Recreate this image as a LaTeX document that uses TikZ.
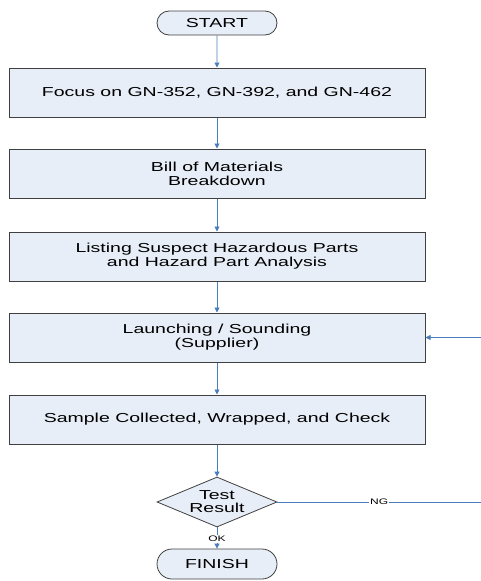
\documentclass[tikz,border=0pt]{standalone}
\usepackage{fontspec}
\newfontfamily\wfont[FakeStretch=1.5]{Liberation Sans}
\usetikzlibrary{shapes.misc,shapes.geometric,arrows.meta}
\definecolor{boxfill}{RGB}{232,238,247}
\definecolor{boxline}{RGB}{64,64,64}
\definecolor{conn}{RGB}{74,126,187}
\tikzset{
  procbox/.style={draw=boxline, line width=1pt, fill=boxfill, rectangle,
    minimum width=416pt, minimum height=49pt, inner sep=0pt, align=center,
    font=\wfont\fontsize{13}{14}\selectfont},
  termbox/.style={draw=boxline, line width=0.8pt, fill=boxfill, rounded rectangle,
    minimum width=120pt, minimum height=24pt, inner sep=0pt,
    font=\wfont\fontsize{13}{14}\selectfont},
  decbox/.style={draw=boxline, line width=0.8pt, fill=boxfill, diamond, aspect=2.4,
    minimum width=120pt, minimum height=50pt, inner sep=0pt, align=center,
    font=\wfont\fontsize{13}{13}\selectfont},
  flow/.style={draw=conn, line width=0.9pt, -{Triangle[length=5pt,width=5pt]}},
  plain/.style={draw=conn, line width=0.9pt},
  lbl/.style={fill=white, inner sep=1pt, font=\wfont\fontsize{8}{9}\selectfont}
}
\begin{document}
\begin{tikzpicture}[x=1pt,y=-1pt]
\useasboundingbox (0,0) rectangle (481,581);
\node[termbox] (start) at (217,23) {START};
\node[procbox] (b1) at (217,92.5) {Focus on GN-352, GN-392, and GN-462};
\node[procbox] (b2) at (217,173.5) {Bill of Materials\\Breakdown};
\node[procbox] (b3) at (217,256.5) {Listing Suspect Hazardous Parts\\and Hazard Part Analysis};
\node[procbox] (b4) at (217,337.5) {Launching / Sounding\\(Supplier)};
\node[procbox] (b5) at (217,419.5) {Sample Collected, Wrapped, and Check};
\node[decbox] (test) at (217,502) {Test\\Result};
\node[termbox, minimum height=30pt] (finish) at (217,564) {FINISH};
\coordinate (ngend) at (481,502);
\coordinate (loopin) at (481,337.5);
\draw[flow] (start) -- (b1);
\draw[flow] (b1) -- (b2);
\draw[flow] (b2) -- (b3);
\draw[flow] (b3) -- (b4);
\draw[flow] (b4) -- (b5);
\draw[flow] (b5) -- (test);
\draw[flow] (test) -- node[lbl, pos=0.55] {OK} (finish);
\draw[plain] (test.east) -- node[lbl] {NG} (ngend);
\draw[flow] (loopin) -- (b4.east);
\end{tikzpicture}
\end{document}
